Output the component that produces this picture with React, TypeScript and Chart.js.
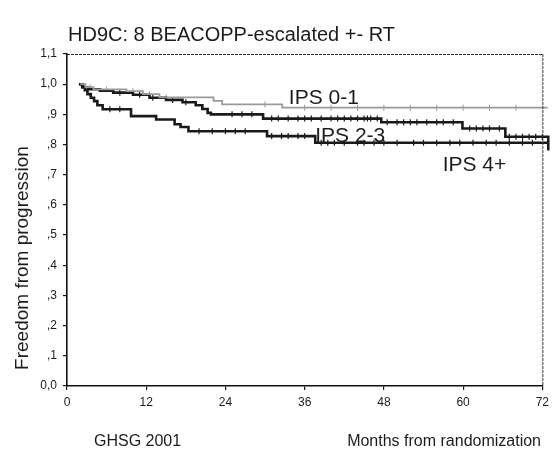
import { useEffect, useRef } from "react";
import { Chart, registerables } from "chart.js";

Chart.register(...registerables);

const TITLE = "HD9C: 8 BEACOPP-escalated +- RT";
const Y_TITLE = "Freedom from progression";
const X_TITLE = "Months from randomization";
const SOURCE = "GHSG 2001";

const X_TICKS = [0, 12, 24, 36, 48, 60, 72];
const Y_TICK_LABELS = ["0,0", ",1", ",2", ",3", ",4", ",5", ",6", ",7", ",8", ",9", "1,0", "1,1"];

// Kaplan-Meier step points: [month, survival after that month]
const IPS01_T = [2.0, 2.8, 4.0, 9.0, 11.5, 14.0, 22.2, 23.5, 32.6, 72.8];
const IPS01_S = [1.0, 0.99, 0.983, 0.977, 0.967, 0.956, 0.945, 0.933, 0.922, 0.922];

const IPS23_T = [1.8, 2.4, 3.2, 5.0, 7.0, 10.0, 12.5, 15.0, 17.5, 19.5, 20.5, 21.3, 21.8, 29.7, 47.6, 59.9, 66.4, 72.9];
const IPS23_S = [1.0, 0.99, 0.983, 0.978, 0.972, 0.965, 0.955, 0.948, 0.94, 0.93, 0.918, 0.905, 0.9, 0.886, 0.874, 0.853, 0.826, 0.78];

const IPS4_T = [1.9, 2.3, 2.7, 3.1, 3.6, 4.1, 4.6, 5.4, 9.7, 13.5, 16.3, 17.2, 18.4, 30.3, 37.6, 72.8];
const IPS4_S = [1.0, 0.99, 0.98, 0.967, 0.955, 0.944, 0.93, 0.917, 0.894, 0.883, 0.867, 0.858, 0.844, 0.828, 0.806, 0.806];

// censoring times (tick marks)
const IPS01_CENSOR = [3.5, 6, 10, 12.5, 15, 30, 36, 40, 44, 48, 52, 56, 60, 64, 68];
const IPS23_CENSOR = [8, 11, 13, 16, 18, 25, 26.5, 28, 31, 32, 33.5, 35, 36, 37, 38.5, 40, 41, 42, 43, 44, 45, 45.5, 46, 47, 48.5, 50, 51, 52, 53, 54.5, 56, 57, 58.5, 61, 62, 63, 64, 65.5, 67, 68, 69, 70, 71, 72];
const IPS4_CENSOR = [6.5, 8, 20, 22, 24, 25.5, 27, 31, 32.5, 33.5, 35, 36, 38.5, 39.5, 40.5, 42, 44, 45, 46.5, 48, 50, 52.5, 54, 56, 58, 59.5, 61.5, 63.5, 65, 67, 69, 70.5];

// group labels placed in data coordinates [month, value] (left/baseline)
const LABELS = ["IPS 0-1", "IPS 2-3", "IPS 4+"];
const LABEL_X = [33.6, 37.6, 56.9];
const LABEL_Y = [0.934, 0.808, 0.712];

const FONT = "'Liberation Sans', Arial, Helvetica, sans-serif";

function toPoints(t: number[], s: number[]) {
  return t.map((x, i) => ({ x, y: s[i] }));
}
function censorPoints(c: number[], t: number[], s: number[]) {
  return c.map((x) => {
    let v = s[0];
    for (let i = 0; i < t.length; i++) if (t[i] <= x) v = s[i];
    return { x, y: v };
  });
}

const overlay = {
  id: "overlay",
  afterDraw(chart: any) {
    const { ctx, chartArea, scales } = chart;
    ctx.save();
    // frame: top and right
    ctx.strokeStyle = "#333";
    ctx.lineWidth = 1;
    ctx.setLineDash([3, 1]);
    ctx.beginPath();
    ctx.moveTo(chartArea.left, chartArea.top + 0.5);
    ctx.lineTo(chartArea.right, chartArea.top + 0.5);
    ctx.moveTo(chartArea.right + 0.5, chartArea.top);
    ctx.lineTo(chartArea.right + 0.5, chartArea.bottom);
    ctx.stroke();
    ctx.setLineDash([]);

    ctx.fillStyle = "#1c1c1c";
    // title
    ctx.font = `20px ${FONT}`;
    ctx.textAlign = "left";
    ctx.textBaseline = "alphabetic";
    ctx.fillText(TITLE, 68, 41);

    // y title
    ctx.save();
    ctx.translate(28, 258);
    ctx.rotate(-Math.PI / 2);
    ctx.font = `19px ${FONT}`;
    ctx.textAlign = "center";
    ctx.fillText(Y_TITLE, 0, 0);
    ctx.restore();

    // bottom texts
    ctx.font = `16px ${FONT}`;
    ctx.textAlign = "left";
    ctx.fillText(SOURCE, 94, 446);
    ctx.textAlign = "right";
    ctx.fillText(X_TITLE, 541, 446);

    // group labels
    ctx.font = `21px ${FONT}`;
    ctx.textAlign = "left";
    LABELS.forEach((l, i) => {
      ctx.fillText(l, scales.x.getPixelForValue(LABEL_X[i]), scales.y.getPixelForValue(LABEL_Y[i]));
    });
    ctx.restore();
  },
};

export default function App() {
  const ref = useRef<HTMLCanvasElement | null>(null);
  useEffect(() => {
    document.body.style.margin = "0";
    const canvas = ref.current!;
    const lineDs = (label: string, data: any[], color: string, width: number) => ({
      label,
      data,
      borderColor: color,
      borderWidth: width,
      stepped: "before" as const,
      pointRadius: 0,
      fill: false,
      clip: { left: 0, top: 0, right: 12, bottom: 0 },
    });
    const censorDs = (label: string, data: any[], color: string, width: number) => ({
      label,
      data,
      showLine: false,
      borderColor: color,
      backgroundColor: color,
      pointStyle: "line" as const,
      rotation: 90,
      pointRadius: 3,
      pointBorderWidth: width,
      clip: { left: 0, top: 0, right: 12, bottom: 0 },
    });
    const chart = new Chart(canvas, {
      type: "line",
      data: {
        datasets: [
          lineDs("IPS 0-1", toPoints(IPS01_T, IPS01_S), "#9a9a9a", 1.8),
          lineDs("IPS 2-3", toPoints(IPS23_T, IPS23_S), "#1a1a1a", 2.6),
          lineDs("IPS 4+", toPoints(IPS4_T, IPS4_S), "#1a1a1a", 2.6),
          censorDs("c01", censorPoints(IPS01_CENSOR, IPS01_T, IPS01_S), "#9a9a9a", 1),
          censorDs("c23", censorPoints(IPS23_CENSOR, IPS23_T, IPS23_S), "#1a1a1a", 1.2),
          censorDs("c4", censorPoints(IPS4_CENSOR, IPS4_T, IPS4_S), "#1a1a1a", 1.2),
        ] as any,
      },
      options: {
        responsive: false,
        animation: false,
        layout: { padding: { left: 0, top: 54, right: 11, bottom: 0 } },
        plugins: { legend: { display: false }, tooltip: { enabled: false }, title: { display: false } },
        scales: {
          x: {
            type: "linear",
            min: 0,
            max: 72,
            afterFit: (s: any) => {
              s.height = 68;
            },
            afterBuildTicks: (s: any) => {
              s.ticks = X_TICKS.map((v) => ({ value: v }));
            },
            ticks: {
              color: "#1c1c1c",
              font: { family: FONT, size: 12 },
              padding: 5,
              maxRotation: 0,
              callback: (v: any) => String(v),
            },
            grid: { drawOnChartArea: false, drawTicks: true, tickLength: 4, color: "#111", lineWidth: 1.2 },
            border: { display: true, color: "#111", width: 1.6 },
          },
          y: {
            type: "linear",
            min: 0,
            max: 1.1,
            afterFit: (s: any) => {
              s.width = 67;
            },
            afterBuildTicks: (s: any) => {
              s.ticks = Y_TICK_LABELS.map((_, i) => ({ value: i / 10 }));
            },
            ticks: {
              color: "#1c1c1c",
              font: { family: FONT, size: 12 },
              padding: 6,
              callback: (_v: any, i: number) => Y_TICK_LABELS[i],
            },
            grid: { drawOnChartArea: false, drawTicks: true, tickLength: 4, color: "#111", lineWidth: 1.2 },
            border: { display: true, color: "#111", width: 1.6 },
          },
        },
      },
      plugins: [overlay],
    });
    return () => chart.destroy();
  }, []);
  return (
    <div style={{ width: 554, height: 454, background: "#fff" }}>
      <canvas ref={ref} width={554} height={454} style={{ display: "block" }} />
    </div>
  );
}
